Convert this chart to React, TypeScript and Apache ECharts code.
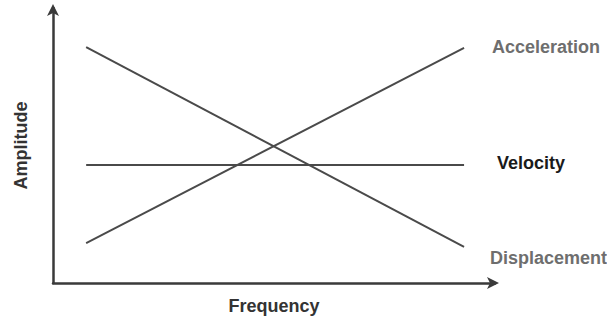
import React, { useEffect, useRef } from "react";
import * as echarts from "echarts";

const seriesNames = ["Acceleration", "Velocity", "Displacement"];
const xPoints = [7.5, 93];
const accelerationValues = [14.5, 85.5];
const velocityValues = [42.9, 42.9];
const displacementValues = [85.8, 13.1];
const xAxisName = "Frequency";
const yAxisName = "Amplitude";

const FONT = "'Liberation Sans', Arial, sans-serif";

export default function App() {
  const ref = useRef<HTMLDivElement>(null);
  useEffect(() => {
    if (!ref.current) return;
    const chart = echarts.init(ref.current, null, { renderer: "svg" });
    const mk = (name: string, vals: number[], labelColor: string, offset: number[]) => ({
      name,
      type: "line",
      data: xPoints.map((x, i) => [x, vals[i]]),
      symbol: "none",
      lineStyle: { color: "#4a4a4a", width: 2 },
      endLabel: {
        show: true,
        formatter: "{a}",
        color: labelColor,
        fontFamily: FONT,
        fontWeight: "bold",
        fontSize: 18,
        offset,
      },
    });
    chart.setOption({
      animation: false,
      backgroundColor: "#ffffff",
      grid: { left: 53, right: 112, top: 8, bottom: 43 },
      xAxis: {
        type: "value",
        min: 0,
        max: 100,
        name: xAxisName,
        nameLocation: "middle",
        nameGap: 14,
        nameTextStyle: { color: "#333", fontFamily: FONT, fontWeight: "bold", fontSize: 18 },
        axisLine: {
          show: true,
          symbol: ["none", "arrow"],
          symbolSize: [9, 12],
          symbolOffset: [0, 4],
          lineStyle: { color: "#3a3a3a", width: 2.5 },
        },
        axisTick: { show: false },
        axisLabel: { show: false },
        splitLine: { show: false },
      },
      yAxis: {
        type: "value",
        min: 0,
        max: 100,
        name: yAxisName,
        nameLocation: "middle",
        nameGap: 23,
        nameTextStyle: { color: "#333", fontFamily: FONT, fontWeight: "bold", fontSize: 18 },
        axisLine: {
          show: true,
          symbol: ["none", "arrow"],
          symbolSize: [9, 12],
          symbolOffset: [0, 4],
          lineStyle: { color: "#3a3a3a", width: 2.5 },
        },
        axisTick: { show: false },
        axisLabel: { show: false },
        splitLine: { show: false },
      },
      series: [
        mk(seriesNames[0], accelerationValues, "#6e6e6e", [20, -1]),
        mk(seriesNames[1], velocityValues, "#1a1a1a", [25, -2]),
        mk(seriesNames[2], displacementValues, "#6e6e6e", [18, 11]),
      ],
    });
    return () => chart.dispose();
  }, []);
  return (
    <div
      ref={ref}
      style={{ position: "absolute", left: 0, top: 0, width: 607, height: 326 }}
    />
  );
}
